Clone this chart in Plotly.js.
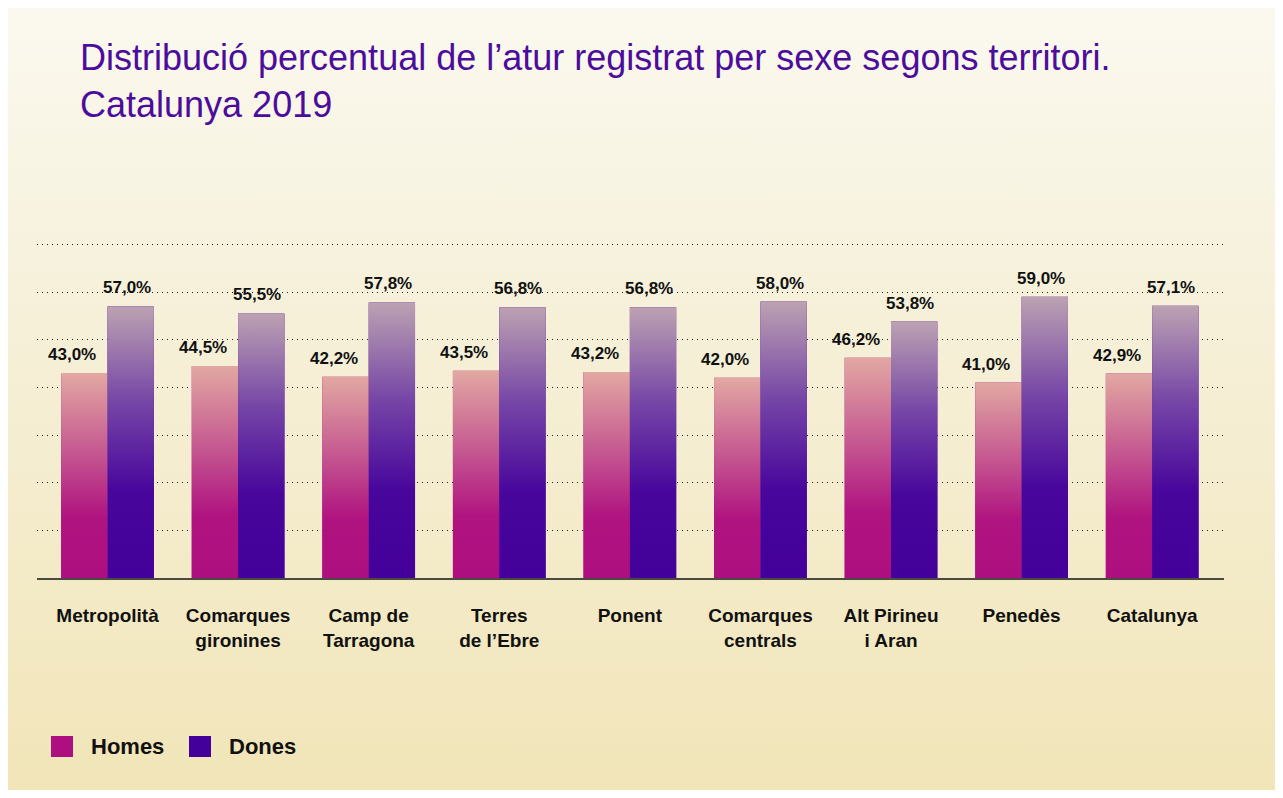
<!DOCTYPE html>
<html>
<head>
<meta charset="utf-8">
<script src="https://cdn.plot.ly/plotly-3.0.1.min.js"></script>
<style>
  html, body { margin: 0; padding: 0; background: #ffffff; }
  #frame { position: absolute; left: 8px; top: 8px; width: 1267px; height: 782px;
           background: linear-gradient(to bottom, #fbf9ef 0%, #f6f0d9 40%, #f1e5b8 100%); }
  #chart { position: absolute; left: 0; top: 0; width: 1283px; height: 798px; }
</style>
</head>
<body>
<div id="frame"></div>
<div id="chart"></div>
<script>
// ---- Data ----
const categories = ["Metropolità", "Comarques<br>gironines", "Camp de<br>Tarragona", "Terres<br>de l’Ebre", "Ponent", "Comarques<br>centrals", "Alt Pirineu<br>i Aran", "Penedès", "Catalunya"];
const homes = [43.0, 44.5, 42.2, 43.5, 43.2, 42.0, 46.2, 41.0, 42.9];
const dones = [57.0, 55.5, 57.8, 56.8, 56.8, 58.0, 53.8, 59.0, 57.1];
const seriesNames = ["Homes", "Dones"];
const seriesColors = ["#ae0f80", "#44009a"];

const fmt = v => v.toFixed(1).replace('.', ',') + '%';
const idx = categories.map((_, i) => i);

const bargap = 0.29;
const barW = (1 - bargap) / 2;

const labelFont = { family: "Liberation Sans, Arial, sans-serif", size: 17, color: "#111111", weight: 700 };

const traces = [];
// base bars (real bar marks)
[homes, dones].forEach((vals, s) => {
  traces.push({
    type: 'bar', x: idx, y: vals, name: seriesNames[s],
    marker: { color: seriesColors[s], line: { width: 0 } },
    hoverinfo: 'skip', showlegend: false
  });
});

// gradient shading drawn over each bar, derived from the same data
const scales = [
  [[0, '#ae0f80'], [0.3, '#b01480'], [0.6, '#c45590'], [1, '#e2a8a2']],
  [[0, '#44009a'], [0.32, '#48069c'], [0.65, '#7646a6'], [1, '#bca2b2']]
];
[homes, dones].forEach((vals, s) => {
  vals.forEach((v, i) => {
    const off = s === 0 ? -barW : 0;
    const x0 = i + off, x1 = i + off + barW;
    traces.push({
      type: 'scatter', mode: 'lines', x: [x0, x1, x1, x0, x0], y: [0, 0, v, v, 0],
      fill: 'toself', line: { width: 0, color: 'rgba(0,0,0,0)' },
      fillcolor: seriesColors[s],
      fillgradient: { type: 'vertical', colorscale: scales[s], start: 0, stop: v },
      hoverinfo: 'skip', showlegend: false
    });
  });
});

// value labels placed through the axes
const annotations = [];
[homes, dones].forEach((vals, s) => {
  vals.forEach((v, i) => {
    annotations.push({
      xref: 'x', yref: 'y', x: i + (s === 0 ? -barW / 2 : barW / 2), y: v,
      xanchor: 'center', yanchor: 'bottom', yshift: 7, xshift: s === 0 ? -12 : -4,
      showarrow: false, text: fmt(v), font: labelFont
    });
  });
});

const legendFont = { family: "Liberation Sans, Arial, sans-serif", size: 22, color: '#111111', weight: 700 };
annotations.push(
  { xref: 'paper', yref: 'paper', x: 52 / 1187, y: -168.5 / 337, xanchor: 'left', yanchor: 'middle', showarrow: false,
    text: seriesNames[0], font: legendFont },
  { xref: 'paper', yref: 'paper', x: 190 / 1187, y: -168.5 / 337, xanchor: 'left', yanchor: 'middle', showarrow: false,
    text: seriesNames[1], font: legendFont }
);

const layout = {
  width: 1283, height: 798,
  paper_bgcolor: 'rgba(0,0,0,0)', plot_bgcolor: 'rgba(0,0,0,0)',
  margin: { l: 37, r: 59, t: 241, b: 220 },
  barmode: 'group', bargap: bargap, bargroupgap: 0,
  showlegend: false,
  title: {
    text: "Distribució percentual de l’atur registrat per sexe segons territori.<br>Catalunya 2019",
    x: 0, xref: 'paper', xanchor: 'left', y: 0.912, yanchor: 'top', yref: 'container',
    pad: { l: 43 },
    font: { family: "Liberation Sans, Arial, sans-serif", size: 36, color: "#4c0c9c" }
  },
  xaxis: {
    range: [-0.54, 8.55], tickmode: 'array', tickvals: idx, ticktext: categories,
    showgrid: false, zeroline: false, showline: true, linecolor: '#4a4a40', linewidth: 2,
    ticks: '', ticklen: 0, ticklabelstandoff: 19,
    tickfont: { family: "Liberation Sans, Arial, sans-serif", size: 19, color: "#111111", weight: 700 },
    fixedrange: true
  },
  yaxis: {
    range: [0, 70.7], dtick: 10, showticklabels: false, ticks: '',
    showgrid: true, gridcolor: '#222222', gridwidth: 1, griddash: '1px,4px',
    zeroline: false, showline: false, fixedrange: true
  },
  shapes: [
    { type: 'rect', xref: 'paper', yref: 'paper', x0: 14 / 1187, x1: 36 / 1187, y0: -179 / 337, y1: -158 / 337,
      fillcolor: seriesColors[0], line: { width: 0 } },
    { type: 'rect', xref: 'paper', yref: 'paper', x0: 152 / 1187, x1: 174 / 1187, y0: -179 / 337, y1: -158 / 337,
      fillcolor: seriesColors[1], line: { width: 0 } }
  ],
  annotations: annotations
};

Plotly.newPlot('chart', traces, layout, { displayModeBar: false, staticPlot: true });
</script>
</body>
</html>
